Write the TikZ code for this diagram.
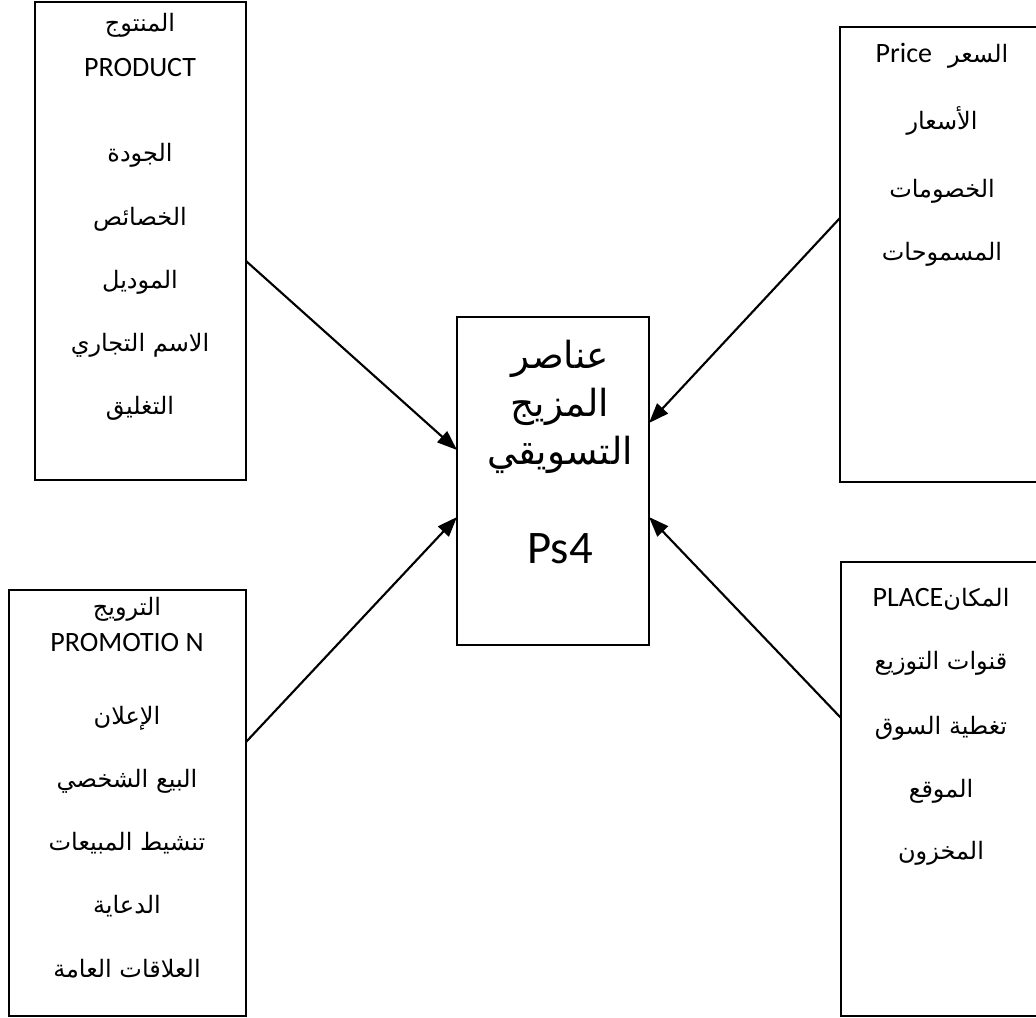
\documentclass[tikz,border=0pt]{standalone}
\usepackage{fontspec}
\setmainfont{Carlito}
\newfontfamily\arabicfont[Script=Arabic]{DejaVu Sans}
\TeXXeTstate=1
\usetikzlibrary{arrows.meta}
\newcommand{\artxt}[1]{{\arabicfont\beginR #1\endR}}

\begin{document}
\begin{tikzpicture}[x=0.75pt,y=-0.75pt,
  box/.style={draw, line width=1.3pt, rectangle, inner sep=0pt, outer sep=0pt},
  item/.style={inner sep=0pt, anchor=base, font=\fontsize{18}{21}\selectfont},
  latin/.style={inner sep=0pt, anchor=base, font=\fontsize{21}{25}\selectfont},
  bigitem/.style={inner sep=0pt, anchor=base, font=\fontsize{28}{33}\selectfont},
  biglatin/.style={inner sep=0pt, anchor=base, font=\fontsize{35}{41}\selectfont},
  link/.style={-{Triangle[length=15pt,width=11pt]}, line width=1.6pt}]
\clip (0,0) rectangle (1036,1018);
\fill[white] (0,0) rectangle (1036,1018);

% the five boxes
\node[box, minimum width=158.25pt, minimum height=358.5pt] (product) at (140.5,241) {};
\node[box, minimum width=157.5pt, minimum height=341.25pt] (price) at (945,254.5) {};
\node[box, minimum width=144pt, minimum height=246pt] (mix) at (553,481) {};
\node[box, minimum width=177.75pt, minimum height=319.5pt] (promo) at (127.5,803) {};
\node[box, minimum width=156.75pt, minimum height=340.5pt] (place) at (945.5,789) {};

% product
\node[item] (pr1) at (140,31) {\artxt{المنتوج}};
\node[latin] (pr2) at (140,76) {PRODUCT};
\node[item] (pr3) at (140,161) {\artxt{الجودة}};
\node[item] (pr4) at (140,225) {\artxt{الخصائص}};
\node[item] (pr5) at (140,288) {\artxt{الموديل}};
\node[item] (pr6) at (140,351) {\artxt{الاسم التجاري}};
\node[item] (pr7) at (140,414) {\artxt{التغليق}};

% price
\node[item] (pc1) at (942,62) {{\fontsize{21}{25}\selectfont Price}\hspace{12pt}\artxt{السعر}};
\node[item] (pc2) at (942,129) {\artxt{الأسعار}};
\node[item] (pc3) at (942,197) {\artxt{الخصومات}};
\node[item] (pc4) at (942,260) {\artxt{المسموحات}};

% centre
\node[bigitem] (m1) at (560,368) {\artxt{عناصر}};
\node[bigitem] (m2) at (560,416) {\artxt{المزيج}};
\node[bigitem] (m3) at (560,464) {\artxt{التسويقي}};
\node[biglatin] (m4) at (560,563) {Ps4};

% promotion
\node[item] (po1) at (127,615) {\artxt{الترويج}};
\node[latin] (po2) at (127,651) {PROMOTIO N};
\node[item] (po3) at (127,724) {\artxt{الإعلان}};
\node[item] (po4) at (127,787) {\artxt{البيع الشخصي}};
\node[item] (po5) at (127,850) {\artxt{تنشيط المبيعات}};
\node[item] (po6) at (127,913) {\artxt{الدعاية}};
\node[item] (po7) at (127,977) {\artxt{العلاقات العامة}};

% place
\node[item] (pl1) at (941,606) {{\fontsize{21}{25}\selectfont PLACE}\artxt{المكان}};
\node[item] (pl2) at (941,669) {\artxt{قنوات التوزيع}};
\node[item] (pl3) at (941,734) {\artxt{تغطية السوق}};
\node[item] (pl4) at (941,797) {\artxt{الموقع}};
\node[item] (pl5) at (941,859) {\artxt{المخزون}};

% connectors
\coordinate (ya) at (0,261);
\coordinate (yb) at (0,450);
\coordinate (yc) at (0,218);
\coordinate (yd) at (0,423);
\coordinate (ye) at (0,742);
\coordinate (yf) at (0,517);
\coordinate (yg) at (0,718);
\draw[link] (product.east |- ya) -- (mix.west |- yb);
\draw[link] (price.west |- yc) -- (mix.east |- yd);
\draw[link] (promo.east |- ye) -- (mix.west |- yf);
\draw[link] (place.west |- yg) -- (mix.east |- yf);
\end{tikzpicture}
\end{document}
